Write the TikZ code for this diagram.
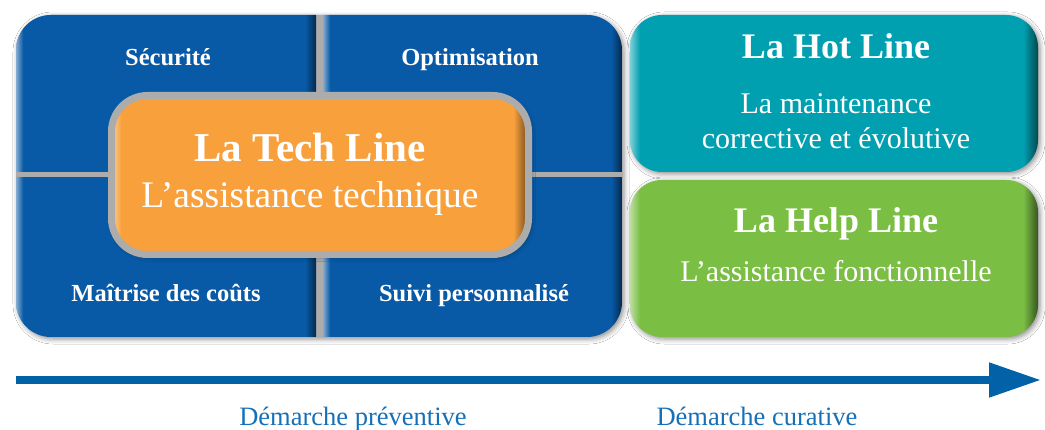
\documentclass[tikz,border=0pt]{standalone}
\usepackage{fontspec}
\setmainfont{Liberation Serif}
\usepackage{xcolor}
\usetikzlibrary{arrows.meta, shadows, shadows.blur, positioning}

\definecolor{techblue}{RGB}{8,90,166}
\definecolor{techorange}{RGB}{247,160,60}
\definecolor{hotteal}{RGB}{0,160,176}
\definecolor{helpgreen}{RGB}{122,190,68}
\definecolor{gapgray}{RGB}{172,172,172}
\definecolor{arrowblue}{RGB}{2,98,168}
\definecolor{textblue}{RGB}{22,112,184}

% light rim on the left, dark rim on the right
\pgfdeclarehorizontalshading[rimlight,rimmain,rimdark]{glossrim}{100bp}{color(0bp)=(rimlight); color(25bp)=(rimlight);
  color(26.2bp)=(rimmain); color(73.2bp)=(rimmain); color(75bp)=(rimdark); color(100bp)=(rimdark)}

\tikzset{
  glossy/.style={shade, shading=glossrim,
    /utils/exec={\colorlet{rimmain}{#1}\colorlet{rimlight}{#1!50!white}\colorlet{rimdark}{#1!45!black}}},
  softshadow/.style={blur shadow={shadow xshift=2pt, shadow yshift=-2pt, shadow blur radius=5pt, shadow opacity=45}},
  linebox/.style={rounded corners=32pt, minimum width=408pt, minimum height=157pt, softshadow},
  quadlabel/.style={text=white, font=\fontsize{24.5}{28}\selectfont\bfseries, anchor=base},
  linetitle/.style={text=white, font=\fontsize{36}{40}\selectfont\bfseries, anchor=base},
  linetext/.style={text=white, font=\fontsize{30}{35}\selectfont, anchor=base, align=center},
  demarche/.style={text=textblue, font=\fontsize{26.5}{30}\selectfont, anchor=base}
}

\begin{document}
\begin{tikzpicture}[x=1pt, y=-1pt]

      \fill[white] (0,0) rectangle (1045,430);
      \useasboundingbox (0,0) rectangle (1045,430);

      % Preventive block
      \node[fill=gapgray, rounded corners=35pt, minimum width=606pt, minimum height=322pt, softshadow]
        (techblock) at (319,176) {};
      \begin{scope}
        \clip[rounded corners=35pt] (16,15) rectangle (622,337);
        \shade[glossy=techblue] (16,15) rectangle (316,172);
        \shade[glossy=techblue] (323,15) rectangle (622,172);
        \shade[glossy=techblue] (16,178) rectangle (316,337);
        \shade[glossy=techblue] (323,178) rectangle (622,337);
      \end{scope}

      \node[quadlabel] (securite) at (168,66) {Sécurité};
      \node[quadlabel] (optim) at (470,66) {Optimisation};
      \node[quadlabel] (maitrise) at (166,302) {Maîtrise des coûts};
      \node[quadlabel] (suivi) at (474,302) {Suivi personnalisé};

      \node[glossy=techorange, draw=gapgray, line width=7pt, rounded corners=36pt,
        minimum width=417pt, minimum height=159pt, softshadow] (techline) at (320,175) {};
      \node[text=white, font=\fontsize{41}{46}\selectfont\bfseries, anchor=base] (techtitle) at (310,162) {La Tech Line};
      \node[text=white, font=\fontsize{37.5}{42}\selectfont, anchor=base] (techtext) at (310,208) {L’assistance technique};

      % Curative blocks
      \node[linebox, glossy=hotteal] (hotline) at (834,93.5) {};
      \node[linetitle] (hottitle) at (836,59) {La Hot Line};
      \node[linetext] (hottext) at (836,149) {La maintenance\\corrective et évolutive};

      \node[linebox, glossy=helpgreen] (helpline) at (834,258.5) {};
      \node[linetitle] (helptitle) at (836,233) {La Help Line};
      \node[linetext] (helptext) at (836,282) {L’assistance fonctionnelle};

      % Arrow
      \coordinate (flowstart) at (16,380);
      \coordinate (flowend) at (1041,380);
      \draw[arrowblue, line width=8pt, -{Triangle[length=52pt, width=33pt]}] (flowstart) -- (flowend);

      \node[demarche] (preventive) at (353,425) {Démarche préventive};
      \node[demarche] (curative) at (757,425) {Démarche curative};

    \end{tikzpicture}
\end{document}
